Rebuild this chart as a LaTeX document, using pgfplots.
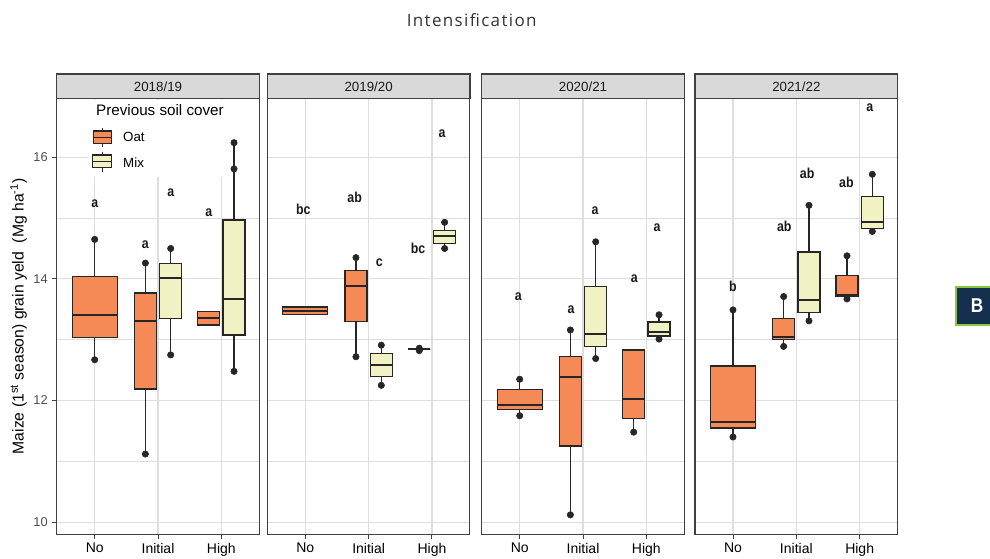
\documentclass[border=0pt]{standalone}
\usepackage{fontspec}
\setmainfont{Liberation Sans}
\newfontfamily\letterfont[FakeStretch=0.86]{Liberation Sans}
\newfontfamily\titlefont[LetterSpace=8]{Open Sans}
\usepackage{pgfplots}
\pgfplotsset{compat=1.18}
\usepgfplotslibrary{statistics}

\definecolor{oat}{HTML}{F58A56}
\definecolor{mix}{HTML}{F1F2C4}
\definecolor{edgec}{HTML}{262626}
\definecolor{gridc}{HTML}{DEDEDE}
\definecolor{framec}{HTML}{404040}
\definecolor{stripc}{HTML}{D9D9D9}
\definecolor{tickc}{HTML}{4D4D4D}
\definecolor{navy}{HTML}{15304E}
\definecolor{lime}{HTML}{8CC63F}

\pgfplotsset{
  boxplot/draw direction=y,
  boxplot/every box/.style={draw=edgec, line width=1pt},
  boxplot/every whisker/.style={draw=edgec, line width=0.9pt},
  boxplot/every median/.style={draw=edgec, line width=1.5pt},
  panel/.style={
    width=152pt, height=327pt, scale only axis,
    xmin=0.4, xmax=3.6, ymin=9.8, ymax=16.97,
    xtick={1,2,3}, xticklabels={No,Initial,High},
    ytick={10,12,14,16}, minor ytick={11,13,15},
    xtick pos=bottom, ytick pos=left,
    grid=both,
    major grid style={draw=gridc, line width=0.9pt},
    minor grid style={draw=gridc, line width=0.7pt},
    axis line style={draw=framec, line width=0.8pt},
    tick align=outside, major tick length=3.2pt, minor tick length=0pt,
    tick style={draw=framec, line width=0.7pt},
    xticklabel style={font=\fontsize{10.5}{12}\selectfont, text=black},
    yticklabel style={font=\fontsize{9.6}{11}\selectfont, text=tickc},
    /pgf/number format/assume math mode=true,
    anchor=south west,
  },
  inner/.style={yticklabels={}, ytick style={draw=none}},
}

\newcommand\bx[8]{\addplot[draw=edgec, fill=#8, line width=1pt, boxplot prepared={draw position=#1, box extend=#2, whisker extend=0, lower whisker=#3, lower quartile=#4, median=#5, upper quartile=#6, upper whisker=#7}] coordinates {};}
\newcommand\lt[3]{\node[font=\letterfont\bfseries\fontsize{10.8}{12}\selectfont, text=black!90] at (axis cs:#1,#2) {#3};}
\tikzset{dots/.style={only marks, mark=*, mark size=2.4pt, mark options={fill=edgec, draw=edgec}}}

\begin{document}
\begin{tikzpicture}
\path[use as bounding box] (0,0) rectangle (742.5pt,-419.25pt);

% ---------------- 2018/19
\begin{axis}[panel, at={(42.525pt,-400.725pt)}]
\fill[white] (axis cs:0.895,15.68) rectangle (axis cs:3.59,16.95);
\bx{1}{0.71}{12.67}{13.04}{13.40}{14.04}{14.65}{oat}
\bx{1.8}{0.35}{11.12}{12.19}{13.31}{13.77}{14.26}{oat}
\bx{2.2}{0.35}{12.75}{13.35}{14.01}{14.25}{14.50}{mix}
\bx{2.8}{0.35}{13.24}{13.24}{13.36}{13.46}{13.46}{oat}
\bx{3.2}{0.35}{12.48}{13.08}{13.67}{14.97}{16.24}{mix}
\addplot[dots] coordinates {(1,12.67) (1,14.65) (1.8,11.12) (1.8,14.26) (2.2,12.75) (2.2,14.50) (3.2,12.48) (3.2,15.81) (3.2,16.24)};
\lt{1.0}{15.23}{a}
\lt{1.8}{14.57}{a}
\lt{2.2}{15.41}{a}
\lt{2.8}{15.09}{a}
\end{axis}

% ---------------- 2019/20
\begin{axis}[panel, inner, at={(200.475pt,-400.725pt)}]
\bx{1}{0.71}{13.41}{13.41}{13.47}{13.54}{13.54}{oat}
\bx{1.8}{0.35}{12.72}{13.30}{13.89}{14.14}{14.35}{oat}
\bx{2.2}{0.35}{12.25}{12.39}{12.59}{12.77}{12.91}{mix}
\bx{2.8}{0.35}{12.84}{12.84}{12.84}{12.84}{12.84}{oat}
\bx{3.2}{0.35}{14.50}{14.58}{14.70}{14.80}{14.93}{mix}
\addplot[dots] coordinates {(1.8,12.72) (1.8,14.35) (2.2,12.25) (2.2,12.91) (2.8,12.86) (2.8,12.82) (3.2,14.50) (3.2,14.93)};
\lt{0.97}{15.15}{bc}
\lt{1.78}{15.34}{ab}
\lt{2.17}{14.26}{c}
\lt{2.78}{14.50}{bc}
\lt{3.16}{16.39}{a}
\end{axis}

% ---------------- 2020/21
\begin{axis}[panel, inner, at={(361.275pt,-400.725pt)}]
\bx{1}{0.71}{11.75}{11.85}{11.93}{12.18}{12.35}{oat}
\bx{1.8}{0.35}{10.12}{11.25}{12.38}{12.72}{13.16}{oat}
\bx{2.2}{0.35}{12.69}{12.89}{13.09}{13.87}{14.61}{mix}
\bx{2.8}{0.35}{11.48}{11.70}{12.03}{12.83}{12.83}{oat}
\bx{3.2}{0.35}{13.01}{13.06}{13.13}{13.29}{13.41}{mix}
\addplot[dots] coordinates {(1,11.75) (1,12.35) (1.8,10.12) (1.8,13.16) (2.2,12.69) (2.2,14.61) (2.8,11.48) (3.2,13.01) (3.2,13.41)};
\lt{0.98}{13.70}{a}
\lt{1.81}{13.49}{a}
\lt{2.19}{15.12}{a}
\lt{2.81}{14.01}{a}
\lt{3.17}{14.84}{a}
\end{axis}

% ---------------- 2021/22
\begin{axis}[panel, inner, at={(521.25pt,-400.725pt)}]
\bx{1}{0.71}{11.40}{11.55}{11.64}{12.57}{13.49}{oat}
\bx{1.8}{0.35}{12.89}{13.00}{13.04}{13.35}{13.71}{oat}
\bx{2.2}{0.35}{13.31}{13.45}{13.65}{14.44}{15.21}{mix}
\bx{2.8}{0.35}{13.67}{13.71}{13.73}{14.06}{14.38}{oat}
\bx{3.2}{0.35}{14.78}{14.83}{14.94}{15.35}{15.72}{mix}
\addplot[dots] coordinates {(1,11.40) (1,13.49) (1.8,12.89) (1.8,13.71) (2.2,13.31) (2.2,15.21) (2.8,13.67) (2.8,14.38) (3.2,14.78) (3.2,15.72)};
\lt{1.0}{13.87}{b}
\lt{1.81}{14.87}{ab}
\lt{2.17}{15.73}{ab}
\lt{2.79}{15.58}{ab}
\lt{3.16}{16.82}{a}
\end{axis}

\begin{scope}[x=0.75pt,y=-0.75pt]
% strips
\foreach \L/\R/\lab in {56.7/259.3/2018\slash 19, 267.3/470/2019\slash 20, 481.7/684.3/2020\slash 21, 695/897.7/2021\slash 22}{
  \filldraw[fill=stripc, draw=framec, line width=0.8pt] (\L,74) rectangle (\R,98.3);
  \node[font=\fontsize{10}{12}\selectfont, text=black!90] at ({(\L+\R)/2},86.5) {\lab};
}
% title
\node[font=\titlefont\fontsize{12.75}{15}\selectfont, text=black!80] at (471.7,20) {Intensification};
% y label
\node[rotate=90, font=\fontsize{11.8}{14}\selectfont, text=black] at (18.5,316.3) {Maize (1\textsuperscript{st} season) grain yeld\ \ (Mg ha\textsuperscript{-1})};
% legend
\node[font=\fontsize{11.4}{13}\selectfont, anchor=west] at (91.5,110.5) {Previous soil cover};
\draw[edgec, line width=0.9pt] (102.5,128.3) -- (102.5,147.3);
\filldraw[fill=oat, draw=edgec, line width=1pt] (93.3,131) rectangle (111.7,143.3);
\draw[edgec, line width=1pt] (93.3,137.2) -- (111.7,137.2);
\node[font=\fontsize{10}{12}\selectfont, anchor=west] at (118.5,137.3) {Oat};
\draw[edgec, line width=0.9pt] (102.2,152.3) -- (102.2,171.7);
\filldraw[fill=mix, draw=edgec, line width=1pt] (92.7,155) rectangle (111.7,167.7);
\draw[edgec, line width=1pt] (92.7,161.3) -- (111.7,161.3);
\node[font=\fontsize{10}{12}\selectfont, anchor=west] at (118.5,162.3) {Mix};
% B tag
\filldraw[fill=navy, draw=lime, line width=1.6pt] (956,287) rectangle (1000,325);
\node[font=\letterfont\bfseries\fontsize{15}{18}\selectfont, text=white] at (977,306) {B};
\end{scope}
\end{tikzpicture}
\end{document}
